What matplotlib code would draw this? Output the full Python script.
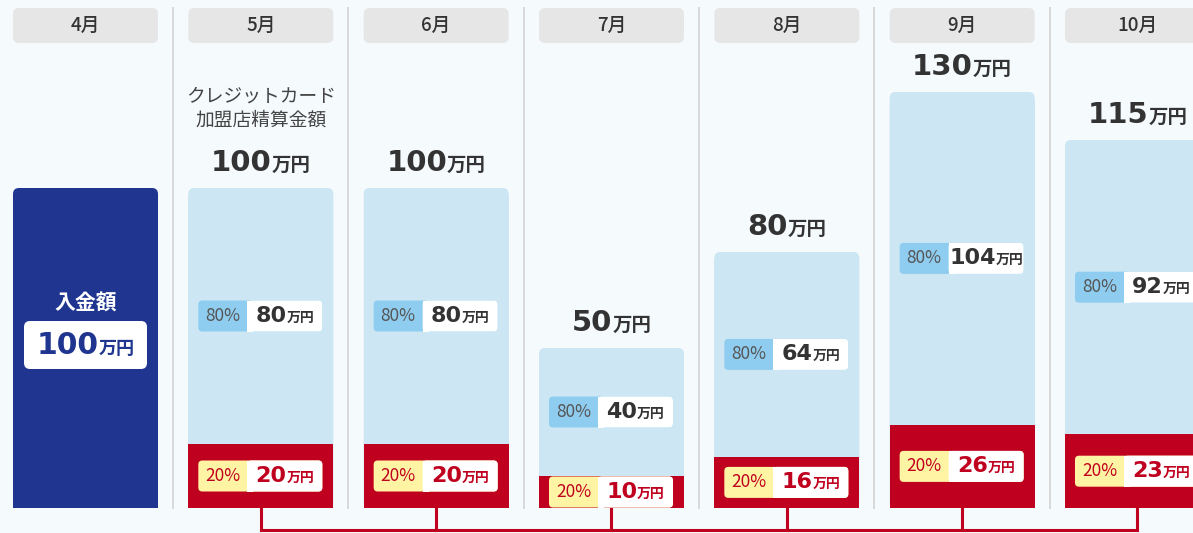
import matplotlib
matplotlib.use("Agg")
import matplotlib.pyplot as plt
from matplotlib.patches import FancyBboxPatch, Rectangle
from matplotlib.offsetbox import TextArea, HPacker, AnnotationBbox

plt.rcParams['font.family'] = ['Noto Sans CJK JP', 'DejaVu Sans']

# ---------------- data ----------------
months = ['4月', '5月', '6月', '7月', '8月', '9月', '10月']
deposit_label = '入金額'
deposit_value = 100
settle_caption = 'クレジットカード\n加盟店精算金額'
settle_totals = [100, 100, 50, 80, 130, 115]   # 5月..10月
share_80 = [80, 80, 40, 64, 104, 92]
share_20 = [20, 20, 10, 16, 26, 23]
pct_80 = '80%'
pct_20 = '20%'
unit = '万円'

# ---------------- style ----------------
W, H, DPI = 1193, 533, 100
BG = '#f5fafd'
NAVY = '#1f3590'
LIGHT = '#cce6f4'
RED = '#c0001f'
HEADER = '#e6e6e6'
SEP = '#d9d9d9'
DARK = '#333333'
PCT_BLUE = '#8fcdf0'
PCT_YELLOW = '#fff4a3'
DIGIT_FONT = 'DejaVu Sans'
CJK_FONT = 'Noto Sans CJK JP'

COL = 175.33   # px per column
X0 = 85.5      # px centre of first column
PXV = 3.2      # px per 万円
BASE = 25      # px from bottom edge to zero line

fig = plt.figure(figsize=(W / DPI, H / DPI), dpi=DPI)
fig.patch.set_facecolor(BG)
ax = fig.add_axes([0, 0, 1, 1])
ax.set_facecolor(BG)
ax.axis('off')
ax.set_xlim(-X0 / COL, (W - X0) / COL)
ax.set_ylim(-BASE / PXV, (H - BASE) / PXV)


def dx(px):
    return px / COL


def dy(px):
    return px / PXV


def ytop(px):
    return (H - BASE - px) / PXV


ASPECT = COL / PXV
BW = dx(145)


def rbox(x, y, w, h, r, color, z):
    p = FancyBboxPatch((x, y), w, h,
                       boxstyle=f"round,pad=0,rounding_size={dx(r)}",
                       mutation_aspect=ASPECT, facecolor=color,
                       edgecolor='none', zorder=z)
    ax.add_patch(p)
    return p


def rich(x, y, big, small, color, bigsize, smallsize, z=8, sep=0):
    box = HPacker(children=[
        TextArea(big, textprops=dict(fontsize=bigsize, fontweight='bold',
                                     color=color, family=DIGIT_FONT)),
        TextArea(small, textprops=dict(fontsize=smallsize, fontweight='bold',
                                       color=color, family=CJK_FONT)),
    ], align='baseline', pad=0, sep=sep)
    ab = AnnotationBbox(box, (x, y), xycoords='data', frameon=False,
                        box_alignment=(0.5, 0.5), pad=0, zorder=z)
    ax.add_artist(ab)


def pill(bar_left, yc, pct, val, pct_bg, pct_color, val_color):
    left = bar_left + dx(10)
    h = dy(31)
    rbox(left, yc - h / 2, dx(124), h, 4, pct_bg, 5)
    rbox(left + dx(49), yc - h / 2, dx(75), h, 4, 'white', 6)
    ax.add_patch(Rectangle((left + dx(49), yc - h / 2), dx(6), h,
                           facecolor='white', edgecolor='none', zorder=6))
    ax.text(left + dx(24.5), yc, pct, fontsize=12.5, color=pct_color,
            ha='center', va='center', zorder=8, family=CJK_FONT)
    rich(left + dx(49 + 37.5), yc, str(val), unit, val_color, 16, 10)


xs = list(range(len(months)))

# separators
for i in xs[:-1]:
    ax.plot([i + 0.5, i + 0.5], [0, ytop(8)], color=SEP, lw=1.4, zorder=1)

# headers
for i, m in zip(xs, months):
    rbox(i - BW / 2, ytop(43), BW, dy(35), 6, HEADER, 2)
    ax.text(i, ytop(25), m, fontsize=13.5, color=DARK, ha='center',
            va='center', zorder=3, fontweight='medium')

# bars
navy = ax.bar([0], [deposit_value], width=BW, color=NAVY, zorder=2)
blue = ax.bar(xs[1:], settle_totals, width=BW, color=LIGHT, zorder=2)
red = ax.bar(xs[1:], share_20, width=BW, color=RED, zorder=3)

for rect, col in [(r, NAVY) for r in navy] + [(r, LIGHT) for r in blue]:
    x, y = rect.get_xy()
    w, h = rect.get_width(), rect.get_height()
    rbox(x, y, w, h, 6, col, 2)
    rect.set_height(h - dy(8))

# deposit labels
ax.text(0, deposit_value / 2 + dy(45), deposit_label, fontsize=15,
        fontweight='bold', color='white', ha='center', va='center', zorder=8)
rbox(0 - dx(61.5), deposit_value / 2 + dy(3) - dy(24), dx(123), dy(48), 6, 'white', 5)
rich(0, deposit_value / 2 + dy(3), str(deposit_value), unit, NAVY, 21.5, 13)

# totals, pills
for i, tot, v80, v20 in zip(xs[1:], settle_totals, share_80, share_20):
    rich(i, tot + dy(25), str(tot), unit, DARK, 21, 14)
    bl = i - BW / 2
    pill(bl, (v20 + tot) / 2, pct_80, v80, PCT_BLUE, '#555555', DARK)
    pill(bl, v20 / 2, pct_20, v20, PCT_YELLOW, RED, RED)

ax.text(xs[1], settle_totals[0] + dy(80), settle_caption, fontsize=13.5,
        color='#444444', ha='center', va='center', linespacing=1.2, zorder=8)

# connector
for i in xs[1:]:
    ax.plot([i, i], [0, ytop(530)], color=RED, lw=2.2, zorder=3,
            solid_capstyle='projecting')
ax.plot([xs[1], xs[-1]], [ytop(530), ytop(530)], color=RED, lw=2.2,
        zorder=3, solid_capstyle='projecting')

fig.savefig('out.png', dpi=DPI, facecolor=BG)
